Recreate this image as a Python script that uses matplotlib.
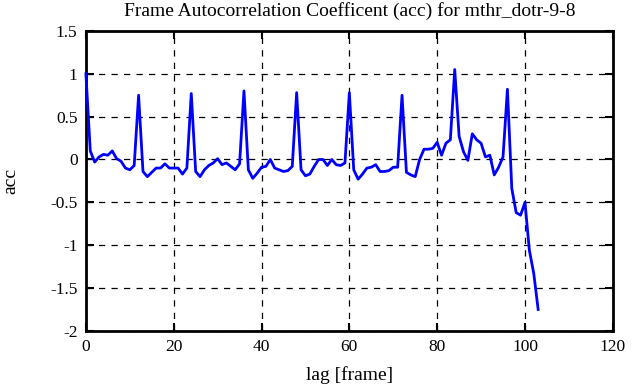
import numpy as np
import matplotlib
matplotlib.use('Agg')
import matplotlib.pyplot as plt

# autocorrelation coefficient per lag
acc = [1.0, 0.1, -0.03, 0.03, 0.06, 0.05, 0.1, 0.01, -0.02, -0.1,
       -0.12, -0.07, 0.75, -0.14, -0.2, -0.15, -0.1, -0.1, -0.05, -0.1,
       -0.1, -0.1, -0.17, -0.1, 0.77, -0.14, -0.2, -0.12, -0.07, -0.04,
       0.01, -0.06, -0.04, -0.08, -0.12, -0.05, 0.8, -0.12, -0.22, -0.16,
       -0.09, -0.08, 0.0, -0.1, -0.12, -0.14, -0.13, -0.08, 0.78, -0.12,
       -0.19, -0.17, -0.08, 0.0, 0.0, -0.07, 0.0, -0.06, -0.07, -0.04,
       0.78, -0.12, -0.23, -0.17, -0.1, -0.09, -0.06, -0.14, -0.14, -0.13,
       -0.09, -0.09, 0.75, -0.15, -0.18, -0.2, 0.0, 0.12, 0.12, 0.13,
       0.2, 0.05, 0.19, 0.23, 1.05, 0.27, 0.09, -0.01, 0.3, 0.23,
       0.19, 0.03, 0.05, -0.18, -0.09, 0.03, 0.82, -0.34, -0.62, -0.65,
       -0.5, -1.06, -1.33, -1.75]
lags = np.arange(len(acc))

xticks = [0, 20, 40, 60, 80, 100, 120]
yticks = [-2, -1.5, -1, -0.5, 0, 0.5, 1, 1.5]
ytick_labels = ['-2', '-1.5', '-1', '-0.5', '0', '0.5', '1', '1.5']

plt.rcParams['font.family'] = ['Liberation Serif', 'DejaVu Serif']

fig = plt.figure(figsize=(6.41, 3.87), dpi=100)
ax = fig.add_axes([0.134, 0.145, 0.822, 0.775])
ax.plot(lags, acc, color='#0000ff', linewidth=2, clip_on=False, zorder=3)

ax.set_xlim(0, 120)
ax.set_ylim(-2, 1.5)
ax.set_xticks(xticks)
ax.set_yticks(yticks)
ax.set_yticklabels(ytick_labels)
ax.grid(True, color='black', linestyle=(0, (5, 5)), linewidth=0.9)
ax.tick_params(direction='in', top=True, right=True, length=6, width=1.5,
               labelsize=12.5, pad=6)
for s in ax.spines.values():
    s.set_linewidth(2)

ax.set_title('Frame Autocorrelation Coefficent (acc) for mthr_dotr-9-8',
             fontsize=14, pad=11)
ax.set_xlabel('lag [frame]', fontsize=14, labelpad=8)
ax.set_ylabel('acc', fontsize=14, labelpad=22)

fig.savefig('out.png', dpi=100)
plt.close(fig)
